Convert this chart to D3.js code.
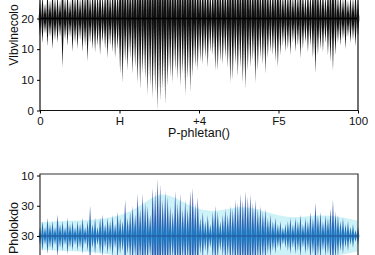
<!DOCTYPE html>
<html><head><meta charset="utf-8">
<script src="https://cdn.jsdelivr.net/npm/d3@7"></script>
<style>
html,body{margin:0;padding:0;background:#fff;}
svg{display:block;font-family:"Liberation Sans",Arial,sans-serif;}
</style></head>
<body>
<svg id="c" width="375" height="255"></svg>
<script>
// ---- data ----
const xTickValues = [0, 25, 50, 75, 100];
const xTickLabels = ["0", "H", "+4", "F5", "100"];
const xTitle = "P-phletan()";

const topTickValues = [0, 10, 20, 30];
const topTickLabels = ["0", "10", "10", "20"];
const topTitle = "Vlbvlnecolo";
const topCenter = 30;
// lower tip of each spike (top panel), left to right
const topLow = [24,22,25,21,24,20,23,22,24,14,23,21,24,19,22,20,23,19,21,16,
  22,20,19,21,18,22,20,17,21,19,17,20,12,9,16,13,17,12,14,9,
  7,12,10,5,8,4,6,0,3,7,2,8,11,9,13,10,8,12,5,10,
  6,11,14,13,16,15,17,14,19,18,13,13,16,15,17,14,9,10,15,11,
  14,9,7,13,14,16,9,13,17,15,12,17,19,18,16,14,18,21,19,20,
  18,22,19,21,17,20,22,19,21,17,12,18,20,19,22,18,16,13,18,22,
  21,23,20,24,22,23,21,24];

const botTickValues = [0, 10, 20];
const botTickLabels = ["30", "30", "10"];
const botTitle = "Pholokdo";
// upper tip of each spike (bottom panel), left to right
const botHigh = [3,5,3,6,4,5,3,7,4,5,3,6,4,5,3,5,4,6,3,5,
  10,4,6,3,6,7,4,6,5,7,4,8,6,5,12,6,8,10,7,14,
  9,14,11,10,7,16,15,19,17,12,15,13,10,8,15,11,14,9,12,9,
  15,16,11,13,6,8,5,7,4,8,10,8,5,7,9,7,10,9,12,11,
  14,12,15,13,14,11,12,9,10,8,9,6,7,5,6,4,5,3,4,5,
  6,4,6,5,7,4,6,5,8,6,11,7,8,5,7,6,9,12,8,7,
  5,6,4,5,3,4,2,3];
// light envelope band (bottom panel)
const botBand = [4.5,5,5,5.5,6.5,9.5,15,12,8.5,8,10,9,6.5,6,7,6.5,5];

// ---- layout ----
const svg = d3.select("#c");
const L = 40, R = 358;
const x = d3.scaleLinear().domain([0, 100]).range([L, R]);
const yTop = d3.scaleLinear().domain([0, 30]).range([110.5, 18.5]);
const yBot = d3.scaleLinear().domain([0, 20]).range([236, 175.5]);

const fontSize = 11.5;

// ===== top panel =====
const gT = svg.append("g");
const nT = topLow.length;
const spikeW = 1.35;
const tri = d3.line();
topLow.forEach((v, i) => {
  const cx = x(i / (nT - 1) * 100);
  const c = yTop(topCenter);
  const hi = topCenter + (topCenter - v);
  gT.append("path")
    .attr("d", tri([[cx - spikeW, c], [cx, yTop(v)], [cx + spikeW, c]]))
    .attr("fill", "#111");
  gT.append("path")
    .attr("d", tri([[cx - spikeW, c], [cx, yTop(hi)], [cx + spikeW, c]]))
    .attr("fill", "#111");
});
gT.append("line").attr("x1", L).attr("x2", R)
  .attr("y1", yTop(topCenter)).attr("y2", yTop(topCenter))
  .attr("stroke", "#000").attr("stroke-width", 1.5);

// frame
gT.append("path")
  .attr("d", `M${L},-5V${yTop(0)}H${R}V-5`)
  .attr("fill", "none").attr("stroke", "#111").attr("stroke-width", 1.2);

const axT = gT.append("g").attr("transform", `translate(${L},0)`)
  .call(d3.axisLeft(yTop).tickValues(topTickValues)
    .tickFormat((d, i) => topTickLabels[i]).tickSize(3).tickSizeOuter(0).tickPadding(3));
axT.select(".domain").remove();
axT.selectAll("text").attr("font-size", fontSize).attr("fill", "#111");

const axX = gT.append("g").attr("transform", `translate(0,${yTop(0)})`)
  .call(d3.axisBottom(x).tickValues(xTickValues)
    .tickFormat((d, i) => xTickLabels[i]).tickSize(3).tickSizeOuter(0).tickPadding(3));
axX.select(".domain").remove();
axX.selectAll("text").attr("font-size", fontSize).attr("fill", "#111");

gT.append("text").attr("x", (L + R) / 2).attr("y", 137)
  .attr("text-anchor", "middle").attr("font-size", 12.5).attr("fill", "#111")
  .text(xTitle);
gT.append("text").attr("transform", "translate(18,35) rotate(-90)")
  .attr("text-anchor", "middle").attr("font-size", 12).attr("fill", "#111")
  .text(topTitle);

// ===== bottom panel =====
const gB = svg.append("g");
const defs = svg.append("defs");
const grad = defs.append("linearGradient").attr("id", "bg")
  .attr("gradientUnits", "userSpaceOnUse")
  .attr("x1", 0).attr("x2", 0).attr("y1", yBot(20)).attr("y2", yBot(-20));
grad.append("stop").attr("offset", "0%").attr("stop-color", "#3f3f98");
grad.append("stop").attr("offset", "35%").attr("stop-color", "#2d5cb0");
grad.append("stop").attr("offset", "50%").attr("stop-color", "#1f7cc4");
grad.append("stop").attr("offset", "65%").attr("stop-color", "#2d5cb0");
grad.append("stop").attr("offset", "100%").attr("stop-color", "#3f3f98");

const nBand = botBand.length;
const band = d3.area()
  .x((d, i) => x(i / (nBand - 1) * 100))
  .y0(d => yBot(-d)).y1(d => yBot(d))
  .curve(d3.curveBasis);
gB.append("path").datum(botBand).attr("d", band).attr("fill", "#cdf2f7");

const nB = botHigh.length;
botHigh.forEach((v, i) => {
  const cx = x(i / (nB - 1) * 100);
  const c = yBot(0);
  gB.append("path")
    .attr("d", tri([[cx - spikeW, c], [cx, yBot(v)], [cx + spikeW, c], [cx, yBot(-v)]]))
    .attr("fill", "url(#bg)");
});
gB.append("line").attr("x1", L).attr("x2", R)
  .attr("y1", yBot(0)).attr("y2", yBot(0))
  .attr("stroke", "#2b4f8f").attr("stroke-width", 1);

gB.append("path")
  .attr("d", `M${L},260V174H${R}V260`)
  .attr("fill", "none").attr("stroke", "#333").attr("stroke-width", 1.2);

const axB = gB.append("g").attr("transform", `translate(${L},0)`)
  .call(d3.axisLeft(yBot).tickValues(botTickValues)
    .tickFormat((d, i) => botTickLabels[i]).tickSize(3).tickSizeOuter(0).tickPadding(3));
axB.select(".domain").remove();
axB.selectAll("text").attr("font-size", fontSize).attr("fill", "#111");

gB.append("text").attr("transform", "translate(18,228) rotate(-90)")
  .attr("text-anchor", "middle").attr("font-size", 12.5).attr("fill", "#111")
  .text(botTitle);
</script>
</body></html>
